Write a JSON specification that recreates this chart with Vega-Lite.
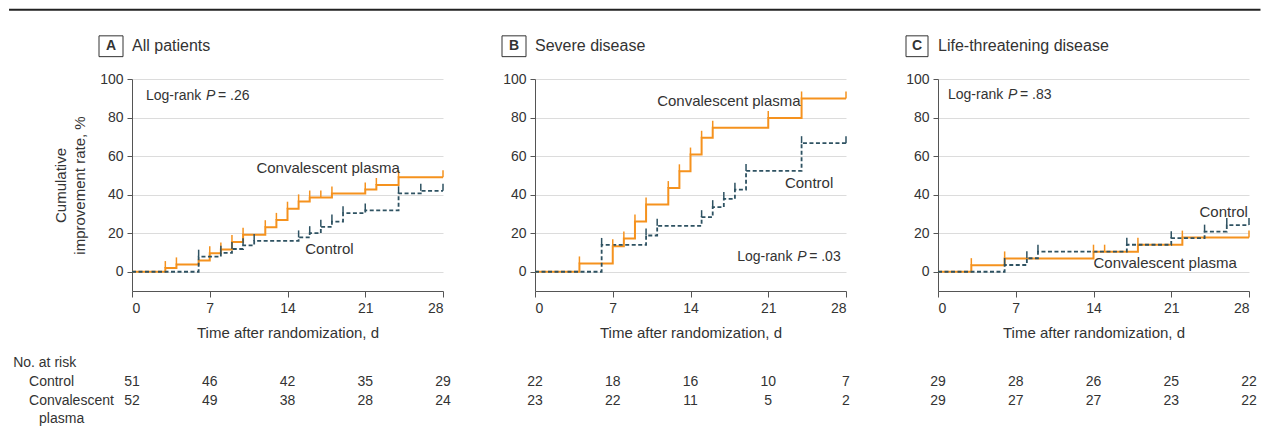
{
"$schema":"https://vega.github.io/schema/vega-lite/v6.json",
"background":"white",
"padding":{"left":8,"top":8,"right":0,"bottom":0},
"config":{"font":"Liberation Sans","view":{"stroke":null},
 "axis":{"labelFontSize":14,"labelColor":"#333","domainColor":"#555","tickColor":"#555","titleFontSize":15,"titleFontWeight":"normal","titleColor":"#333","gridColor":"#dcdcdc","gridWidth":1},
 "text":{"color":"#333"}},
"datasets":{
"curves":[
{"panel":"A","group":"Convalescent plasma","day":0,"value":0},{"panel":"A","group":"Convalescent plasma","day":3,"value":1.9},{"panel":"A","group":"Convalescent plasma","day":4,"value":3.8},{"panel":"A","group":"Convalescent plasma","day":6,"value":5.8},{"panel":"A","group":"Convalescent plasma","day":7,"value":9.6},{"panel":"A","group":"Convalescent plasma","day":8,"value":11.5},{"panel":"A","group":"Convalescent plasma","day":9,"value":15.4},{"panel":"A","group":"Convalescent plasma","day":10,"value":19.2},{"panel":"A","group":"Convalescent plasma","day":12,"value":23.1},{"panel":"A","group":"Convalescent plasma","day":13,"value":26.9},{"panel":"A","group":"Convalescent plasma","day":14,"value":32.7},{"panel":"A","group":"Convalescent plasma","day":15,"value":36.5},{"panel":"A","group":"Convalescent plasma","day":16,"value":38.5},{"panel":"A","group":"Convalescent plasma","day":18,"value":40.6},{"panel":"A","group":"Convalescent plasma","day":21,"value":42.7},{"panel":"A","group":"Convalescent plasma","day":22,"value":45},{"panel":"A","group":"Convalescent plasma","day":24,"value":49},{"panel":"A","group":"Convalescent plasma","day":28,"value":49},
{"panel":"A","group":"Control","day":0,"value":0},{"panel":"A","group":"Control","day":6,"value":7.8},{"panel":"A","group":"Control","day":8,"value":9.8},{"panel":"A","group":"Control","day":9,"value":11.8},{"panel":"A","group":"Control","day":10,"value":13.7},{"panel":"A","group":"Control","day":11,"value":16},{"panel":"A","group":"Control","day":15,"value":17.8},{"panel":"A","group":"Control","day":16,"value":20},{"panel":"A","group":"Control","day":17,"value":23.3},{"panel":"A","group":"Control","day":18,"value":26},{"panel":"A","group":"Control","day":19,"value":30.4},{"panel":"A","group":"Control","day":21,"value":31.8},{"panel":"A","group":"Control","day":24,"value":40.7},{"panel":"A","group":"Control","day":26,"value":42},{"panel":"A","group":"Control","day":28,"value":42},
{"panel":"B","group":"Convalescent plasma","day":0,"value":0},{"panel":"B","group":"Convalescent plasma","day":4,"value":4.3},{"panel":"B","group":"Convalescent plasma","day":7,"value":13.2},{"panel":"B","group":"Convalescent plasma","day":8,"value":17.3},{"panel":"B","group":"Convalescent plasma","day":9,"value":26.1},{"panel":"B","group":"Convalescent plasma","day":10,"value":34.9},{"panel":"B","group":"Convalescent plasma","day":12,"value":43.4},{"panel":"B","group":"Convalescent plasma","day":13,"value":52.1},{"panel":"B","group":"Convalescent plasma","day":14,"value":60.8},{"panel":"B","group":"Convalescent plasma","day":15,"value":69.5},{"panel":"B","group":"Convalescent plasma","day":16,"value":74.7},{"panel":"B","group":"Convalescent plasma","day":21,"value":79.8},{"panel":"B","group":"Convalescent plasma","day":24,"value":89.9},{"panel":"B","group":"Convalescent plasma","day":28,"value":89.9},
{"panel":"B","group":"Control","day":0,"value":0},{"panel":"B","group":"Control","day":6,"value":13.9},{"panel":"B","group":"Control","day":10,"value":18.8},{"panel":"B","group":"Control","day":11,"value":23.8},{"panel":"B","group":"Control","day":15,"value":28.3},{"panel":"B","group":"Control","day":16,"value":33.5},{"panel":"B","group":"Control","day":17,"value":37.8},{"panel":"B","group":"Control","day":18,"value":42.6},{"panel":"B","group":"Control","day":19,"value":52.3},{"panel":"B","group":"Control","day":24,"value":66.7},{"panel":"B","group":"Control","day":28,"value":66.7},
{"panel":"C","group":"Convalescent plasma","day":0,"value":0},{"panel":"C","group":"Convalescent plasma","day":3,"value":3.4},{"panel":"C","group":"Convalescent plasma","day":6,"value":6.9},{"panel":"C","group":"Convalescent plasma","day":14,"value":10.4},{"panel":"C","group":"Convalescent plasma","day":18,"value":14},{"panel":"C","group":"Convalescent plasma","day":22,"value":17.7},{"panel":"C","group":"Convalescent plasma","day":28,"value":17.7},
{"panel":"C","group":"Control","day":0,"value":0},{"panel":"C","group":"Control","day":6,"value":3.5},{"panel":"C","group":"Control","day":8,"value":7},{"panel":"C","group":"Control","day":9,"value":10.4},{"panel":"C","group":"Control","day":17,"value":14},{"panel":"C","group":"Control","day":21,"value":17.4},{"panel":"C","group":"Control","day":24,"value":20.8},{"panel":"C","group":"Control","day":26,"value":24.2},{"panel":"C","group":"Control","day":28,"value":24.2}
],
"censor":[
{"panel":"A","group":"Convalescent plasma","day":3,"value":1.9},{"panel":"A","group":"Convalescent plasma","day":4,"value":3.8},{"panel":"A","group":"Convalescent plasma","day":7,"value":9.6},{"panel":"A","group":"Convalescent plasma","day":8,"value":11.5},{"panel":"A","group":"Convalescent plasma","day":9,"value":15.4},{"panel":"A","group":"Convalescent plasma","day":10,"value":19.2},{"panel":"A","group":"Convalescent plasma","day":12,"value":23.1},{"panel":"A","group":"Convalescent plasma","day":13,"value":26.9},{"panel":"A","group":"Convalescent plasma","day":14,"value":32.7},{"panel":"A","group":"Convalescent plasma","day":15,"value":36.5},{"panel":"A","group":"Convalescent plasma","day":16,"value":38.5},{"panel":"A","group":"Convalescent plasma","day":17,"value":38.5},{"panel":"A","group":"Convalescent plasma","day":18,"value":40.6},{"panel":"A","group":"Convalescent plasma","day":21,"value":42.7},{"panel":"A","group":"Convalescent plasma","day":22,"value":45},{"panel":"A","group":"Convalescent plasma","day":24,"value":49},{"panel":"A","group":"Convalescent plasma","day":28,"value":49},
{"panel":"A","group":"Control","day":6,"value":7.8},{"panel":"A","group":"Control","day":8,"value":9.8},{"panel":"A","group":"Control","day":9,"value":11.8},{"panel":"A","group":"Control","day":10,"value":13.7},{"panel":"A","group":"Control","day":11,"value":16},{"panel":"A","group":"Control","day":15,"value":17.8},{"panel":"A","group":"Control","day":16,"value":20},{"panel":"A","group":"Control","day":17,"value":23.3},{"panel":"A","group":"Control","day":18,"value":26},{"panel":"A","group":"Control","day":19,"value":30.4},{"panel":"A","group":"Control","day":21,"value":31.8},{"panel":"A","group":"Control","day":24,"value":40.7},{"panel":"A","group":"Control","day":26,"value":42},{"panel":"A","group":"Control","day":28,"value":42},
{"panel":"B","group":"Convalescent plasma","day":4,"value":4.3},{"panel":"B","group":"Convalescent plasma","day":7,"value":13.2},{"panel":"B","group":"Convalescent plasma","day":8,"value":17.3},{"panel":"B","group":"Convalescent plasma","day":9,"value":26.1},{"panel":"B","group":"Convalescent plasma","day":10,"value":34.9},{"panel":"B","group":"Convalescent plasma","day":12,"value":43.4},{"panel":"B","group":"Convalescent plasma","day":13,"value":52.1},{"panel":"B","group":"Convalescent plasma","day":14,"value":60.8},{"panel":"B","group":"Convalescent plasma","day":15,"value":69.5},{"panel":"B","group":"Convalescent plasma","day":16,"value":74.7},{"panel":"B","group":"Convalescent plasma","day":21,"value":79.8},{"panel":"B","group":"Convalescent plasma","day":24,"value":89.9},{"panel":"B","group":"Convalescent plasma","day":28,"value":89.9},
{"panel":"B","group":"Control","day":6,"value":13.9},{"panel":"B","group":"Control","day":10,"value":18.8},{"panel":"B","group":"Control","day":11,"value":23.8},{"panel":"B","group":"Control","day":15,"value":28.3},{"panel":"B","group":"Control","day":16,"value":33.5},{"panel":"B","group":"Control","day":17,"value":37.8},{"panel":"B","group":"Control","day":18,"value":42.6},{"panel":"B","group":"Control","day":19,"value":52.3},{"panel":"B","group":"Control","day":24,"value":66.7},{"panel":"B","group":"Control","day":28,"value":66.7},
{"panel":"C","group":"Convalescent plasma","day":3,"value":3.4},{"panel":"C","group":"Convalescent plasma","day":6,"value":6.9},{"panel":"C","group":"Convalescent plasma","day":14,"value":10.4},{"panel":"C","group":"Convalescent plasma","day":15,"value":10.4},{"panel":"C","group":"Convalescent plasma","day":18,"value":14},{"panel":"C","group":"Convalescent plasma","day":22,"value":17.7},{"panel":"C","group":"Convalescent plasma","day":28,"value":17.7},
{"panel":"C","group":"Control","day":6,"value":3.5},{"panel":"C","group":"Control","day":8,"value":7},{"panel":"C","group":"Control","day":9,"value":10.4},{"panel":"C","group":"Control","day":17,"value":14},{"panel":"C","group":"Control","day":21,"value":17.4},{"panel":"C","group":"Control","day":24,"value":20.8},{"panel":"C","group":"Control","day":26,"value":24.2},{"panel":"C","group":"Control","day":28,"value":24.2}
],
"risk":[
{"panel":"A","group":"Control","day":0,"n":51},{"panel":"A","group":"Control","day":7,"n":46},{"panel":"A","group":"Control","day":14,"n":42},{"panel":"A","group":"Control","day":21,"n":35},{"panel":"A","group":"Control","day":28,"n":29},
{"panel":"A","group":"Convalescent plasma","day":0,"n":52},{"panel":"A","group":"Convalescent plasma","day":7,"n":49},{"panel":"A","group":"Convalescent plasma","day":14,"n":38},{"panel":"A","group":"Convalescent plasma","day":21,"n":28},{"panel":"A","group":"Convalescent plasma","day":28,"n":24},
{"panel":"B","group":"Control","day":0,"n":22},{"panel":"B","group":"Control","day":7,"n":18},{"panel":"B","group":"Control","day":14,"n":16},{"panel":"B","group":"Control","day":21,"n":10},{"panel":"B","group":"Control","day":28,"n":7},
{"panel":"B","group":"Convalescent plasma","day":0,"n":23},{"panel":"B","group":"Convalescent plasma","day":7,"n":22},{"panel":"B","group":"Convalescent plasma","day":14,"n":11},{"panel":"B","group":"Convalescent plasma","day":21,"n":5},{"panel":"B","group":"Convalescent plasma","day":28,"n":2},
{"panel":"C","group":"Control","day":0,"n":29},{"panel":"C","group":"Control","day":7,"n":28},{"panel":"C","group":"Control","day":14,"n":26},{"panel":"C","group":"Control","day":21,"n":25},{"panel":"C","group":"Control","day":28,"n":22},
{"panel":"C","group":"Convalescent plasma","day":0,"n":29},{"panel":"C","group":"Convalescent plasma","day":7,"n":27},{"panel":"C","group":"Convalescent plasma","day":14,"n":27},{"panel":"C","group":"Convalescent plasma","day":21,"n":23},{"panel":"C","group":"Convalescent plasma","day":28,"n":22}
]
},
"spacing":92,
"bounds":"flush",
"hconcat":[
{"width":311,"height":212,
 "layer":[
  {"data":{"name":"curves"},"transform":[{"filter":"datum.panel==='A' && datum.group==='Convalescent plasma'"}],
   "mark":{"type":"line","interpolate":"step-after","strokeWidth":2,"color":"#F5921E"},
   "encoding":{"x":{"field":"day","type":"quantitative","scale":{"domain":[0,28],"nice":false},"axis":{"values":[0,7,14,21,28],"title":"Time after randomization, d","grid":false,"tickSize":6,"labelPadding":4,"titlePadding":10}},
    "y":{"field":"value","type":"quantitative","scale":{"domain":[-10,100],"nice":false},"axis":{"values":[0,20,40,60,80,100],"title":["Cumulative","improvement rate, %"],"grid":true,"tickSize":5,"labelPadding":4,"titlePadding":12,"titleLineHeight":19}}}},
  {"data":{"name":"curves"},"transform":[{"filter":"datum.panel==='A' && datum.group==='Control'"}],
   "mark":{"type":"line","interpolate":"step-after","strokeWidth":1.8,"color":"#2E5262","strokeDash":[4,2.5]},
   "encoding":{"x":{"field":"day","type":"quantitative"},"y":{"field":"value","type":"quantitative"}}},
  {"data":{"name":"censor"},"transform":[{"filter":"datum.panel==='A' && datum.group==='Convalescent plasma'"}],
   "mark":{"type":"point","shape":"M0,0V-1","size":196,"filled":false,"strokeWidth":1.5,"color":"#F5921E","opacity":1},
   "encoding":{"x":{"field":"day","type":"quantitative"},"y":{"field":"value","type":"quantitative"}}},
  {"data":{"name":"censor"},"transform":[{"filter":"datum.panel==='A' && datum.group==='Control'"}],
   "mark":{"type":"point","shape":"M0,0V-1","size":196,"filled":false,"strokeWidth":1.5,"color":"#2E5262","opacity":1},
   "encoding":{"x":{"field":"day","type":"quantitative"},"y":{"field":"value","type":"quantitative"}}},
  {"data":{"values":[{}]},"mark":{"type":"rule","strokeWidth":2,"color":"#222"},"encoding":{"x":{"datum":-11.07},"x2":{"datum":101.6},"y":{"datum":135.9}}},
  {"data":{"values":[{}]},"mark":{"type":"rect","fill":"white","stroke":"#333","strokeWidth":1},"encoding":{"x":{"datum":-2.97},"x2":{"datum":-0.81},"y":{"datum":111.6},"y2":{"datum":122.4}}},
  {"data":{"values":[{}]},"mark":{"type":"text","text":"A","fontWeight":"bold","fontSize":14,"align":"center","baseline":"middle"},"encoding":{"x":{"datum":-1.89},"y":{"datum":117}}},
  {"data":{"values":[{}]},"mark":{"type":"text","text":"All patients","fontSize":16,"align":"left","baseline":"middle"},"encoding":{"x":{"datum":0},"y":{"datum":117}}},
  {"data":{"values":[{}]},"mark":{"type":"text","text":"Log-rank","fontSize":14,"align":"left","baseline":"middle"},"encoding":{"x":{"datum":1.26},"y":{"datum":91.3}}},
  {"data":{"values":[{}]},"mark":{"type":"text","text":"P","fontSize":14,"fontStyle":"italic","align":"left","baseline":"middle","dx":60},"encoding":{"x":{"datum":1.26},"y":{"datum":91.3}}},
  {"data":{"values":[{}]},"mark":{"type":"text","text":"= .26","fontSize":14,"align":"left","baseline":"middle","dx":72},"encoding":{"x":{"datum":1.26},"y":{"datum":91.3}}},
  {"data":{"values":[{}]},"mark":{"type":"text","text":"Convalescent plasma","fontSize":15,"align":"left","baseline":"middle"},"encoding":{"x":{"datum":11.2},"y":{"datum":54}}},
  {"data":{"values":[{}]},"mark":{"type":"text","text":"Control","fontSize":15,"align":"left","baseline":"middle"},"encoding":{"x":{"datum":15.6},"y":{"datum":11.6}}},
  {"data":{"values":[{}]},"mark":{"type":"text","text":"No. at risk","fontSize":14,"align":"left","baseline":"middle"},"encoding":{"x":{"datum":-10.7},"y":{"datum":-47.5}}},
  {"data":{"values":[{}]},"mark":{"type":"text","text":"Control","fontSize":14,"align":"left","baseline":"middle"},"encoding":{"x":{"datum":-9.27},"y":{"datum":-57.4}}},
  {"data":{"values":[{}]},"mark":{"type":"text","text":"Convalescent","fontSize":14,"align":"left","baseline":"middle"},"encoding":{"x":{"datum":-9.27},"y":{"datum":-67.2}}},
  {"data":{"values":[{}]},"mark":{"type":"text","text":"plasma","fontSize":14,"align":"left","baseline":"middle"},"encoding":{"x":{"datum":-8.37},"y":{"datum":-76.5}}},
  {"data":{"name":"risk"},"transform":[{"filter":"datum.panel==='A' && datum.group==='Control'"}],"mark":{"type":"text","fontSize":14,"align":"center","baseline":"middle"},"encoding":{"x":{"field":"day","type":"quantitative"},"y":{"datum":-57.4},"text":{"field":"n"}}},
  {"data":{"name":"risk"},"transform":[{"filter":"datum.panel==='A' && datum.group==='Convalescent plasma'"}],"mark":{"type":"text","fontSize":14,"align":"center","baseline":"middle"},"encoding":{"x":{"field":"day","type":"quantitative"},"y":{"datum":-67.2},"text":{"field":"n"}}}
 ]},
{"width":311,"height":212,
 "layer":[
  {"data":{"name":"curves"},"transform":[{"filter":"datum.panel==='B' && datum.group==='Convalescent plasma'"}],
   "mark":{"type":"line","interpolate":"step-after","strokeWidth":2,"color":"#F5921E"},
   "encoding":{"x":{"field":"day","type":"quantitative","scale":{"domain":[0,28],"nice":false},"axis":{"values":[0,7,14,21,28],"title":"Time after randomization, d","grid":false,"tickSize":6,"labelPadding":4,"titlePadding":10}},
    "y":{"field":"value","type":"quantitative","scale":{"domain":[-10,100],"nice":false},"axis":{"values":[0,20,40,60,80,100],"title":null,"grid":true,"tickSize":5,"labelPadding":4}}}},
  {"data":{"name":"curves"},"transform":[{"filter":"datum.panel==='B' && datum.group==='Control'"}],
   "mark":{"type":"line","interpolate":"step-after","strokeWidth":1.8,"color":"#2E5262","strokeDash":[4,2.5]},
   "encoding":{"x":{"field":"day","type":"quantitative"},"y":{"field":"value","type":"quantitative"}}},
  {"data":{"name":"censor"},"transform":[{"filter":"datum.panel==='B' && datum.group==='Convalescent plasma'"}],
   "mark":{"type":"point","shape":"M0,0V-1","size":196,"filled":false,"strokeWidth":1.5,"color":"#F5921E","opacity":1},
   "encoding":{"x":{"field":"day","type":"quantitative"},"y":{"field":"value","type":"quantitative"}}},
  {"data":{"name":"censor"},"transform":[{"filter":"datum.panel==='B' && datum.group==='Control'"}],
   "mark":{"type":"point","shape":"M0,0V-1","size":196,"filled":false,"strokeWidth":1.5,"color":"#2E5262","opacity":1},
   "encoding":{"x":{"field":"day","type":"quantitative"},"y":{"field":"value","type":"quantitative"}}},
  {"data":{"values":[{}]},"mark":{"type":"rect","fill":"white","stroke":"#333","strokeWidth":1},"encoding":{"x":{"datum":-2.97},"x2":{"datum":-0.81},"y":{"datum":111.6},"y2":{"datum":122.4}}},
  {"data":{"values":[{}]},"mark":{"type":"text","text":"B","fontWeight":"bold","fontSize":14,"align":"center","baseline":"middle"},"encoding":{"x":{"datum":-1.89},"y":{"datum":117}}},
  {"data":{"values":[{}]},"mark":{"type":"text","text":"Severe disease","fontSize":16,"align":"left","baseline":"middle"},"encoding":{"x":{"datum":0},"y":{"datum":117}}},
  {"data":{"values":[{}]},"mark":{"type":"text","text":"Log-rank","fontSize":14,"align":"left","baseline":"middle"},"encoding":{"x":{"datum":18.2},"y":{"datum":7.6}}},
  {"data":{"values":[{}]},"mark":{"type":"text","text":"P","fontSize":14,"fontStyle":"italic","align":"left","baseline":"middle","dx":60},"encoding":{"x":{"datum":18.2},"y":{"datum":7.6}}},
  {"data":{"values":[{}]},"mark":{"type":"text","text":"= .03","fontSize":14,"align":"left","baseline":"middle","dx":72},"encoding":{"x":{"datum":18.2},"y":{"datum":7.6}}},
  {"data":{"values":[{}]},"mark":{"type":"text","text":"Convalescent plasma","fontSize":15,"align":"left","baseline":"middle"},"encoding":{"x":{"datum":11.0},"y":{"datum":88.4}}},
  {"data":{"values":[{}]},"mark":{"type":"text","text":"Control","fontSize":15,"align":"left","baseline":"middle"},"encoding":{"x":{"datum":22.5},"y":{"datum":45.9}}},
  {"data":{"name":"risk"},"transform":[{"filter":"datum.panel==='B' && datum.group==='Control'"}],"mark":{"type":"text","fontSize":14,"align":"center","baseline":"middle"},"encoding":{"x":{"field":"day","type":"quantitative"},"y":{"datum":-57.4},"text":{"field":"n"}}},
  {"data":{"name":"risk"},"transform":[{"filter":"datum.panel==='B' && datum.group==='Convalescent plasma'"}],"mark":{"type":"text","fontSize":14,"align":"center","baseline":"middle"},"encoding":{"x":{"field":"day","type":"quantitative"},"y":{"datum":-67.2},"text":{"field":"n"}}}
 ]},
{"width":311,"height":212,
 "layer":[
  {"data":{"name":"curves"},"transform":[{"filter":"datum.panel==='C' && datum.group==='Convalescent plasma'"}],
   "mark":{"type":"line","interpolate":"step-after","strokeWidth":2,"color":"#F5921E"},
   "encoding":{"x":{"field":"day","type":"quantitative","scale":{"domain":[0,28],"nice":false},"axis":{"values":[0,7,14,21,28],"title":"Time after randomization, d","grid":false,"tickSize":6,"labelPadding":4,"titlePadding":10}},
    "y":{"field":"value","type":"quantitative","scale":{"domain":[-10,100],"nice":false},"axis":{"values":[0,20,40,60,80,100],"title":null,"grid":true,"tickSize":5,"labelPadding":4}}}},
  {"data":{"name":"curves"},"transform":[{"filter":"datum.panel==='C' && datum.group==='Control'"}],
   "mark":{"type":"line","interpolate":"step-after","strokeWidth":1.8,"color":"#2E5262","strokeDash":[4,2.5]},
   "encoding":{"x":{"field":"day","type":"quantitative"},"y":{"field":"value","type":"quantitative"}}},
  {"data":{"name":"censor"},"transform":[{"filter":"datum.panel==='C' && datum.group==='Convalescent plasma'"}],
   "mark":{"type":"point","shape":"M0,0V-1","size":196,"filled":false,"strokeWidth":1.5,"color":"#F5921E","opacity":1},
   "encoding":{"x":{"field":"day","type":"quantitative"},"y":{"field":"value","type":"quantitative"}}},
  {"data":{"name":"censor"},"transform":[{"filter":"datum.panel==='C' && datum.group==='Control'"}],
   "mark":{"type":"point","shape":"M0,0V-1","size":196,"filled":false,"strokeWidth":1.5,"color":"#2E5262","opacity":1},
   "encoding":{"x":{"field":"day","type":"quantitative"},"y":{"field":"value","type":"quantitative"}}},
  {"data":{"values":[{}]},"mark":{"type":"rect","fill":"white","stroke":"#333","strokeWidth":1},"encoding":{"x":{"datum":-2.88},"x2":{"datum":-0.9},"y":{"datum":111.6},"y2":{"datum":122.4}}},
  {"data":{"values":[{}]},"mark":{"type":"text","text":"C","fontWeight":"bold","fontSize":14,"align":"center","baseline":"middle"},"encoding":{"x":{"datum":-1.89},"y":{"datum":117}}},
  {"data":{"values":[{}]},"mark":{"type":"text","text":"Life-threatening disease","fontSize":16,"align":"left","baseline":"middle"},"encoding":{"x":{"datum":0},"y":{"datum":117}}},
  {"data":{"values":[{}]},"mark":{"type":"text","text":"Log-rank","fontSize":14,"align":"left","baseline":"middle"},"encoding":{"x":{"datum":0.9},"y":{"datum":91.9}}},
  {"data":{"values":[{}]},"mark":{"type":"text","text":"P","fontSize":14,"fontStyle":"italic","align":"left","baseline":"middle","dx":60},"encoding":{"x":{"datum":0.9},"y":{"datum":91.9}}},
  {"data":{"values":[{}]},"mark":{"type":"text","text":"= .83","fontSize":14,"align":"left","baseline":"middle","dx":72},"encoding":{"x":{"datum":0.9},"y":{"datum":91.9}}},
  {"data":{"values":[{}]},"mark":{"type":"text","text":"Control","fontSize":15,"align":"right","baseline":"middle"},"encoding":{"x":{"datum":27.9},"y":{"datum":31.2}}},
  {"data":{"values":[{}]},"mark":{"type":"text","text":"Convalescent plasma","fontSize":15,"align":"left","baseline":"middle"},"encoding":{"x":{"datum":14.0},"y":{"datum":4.5}}},
  {"data":{"name":"risk"},"transform":[{"filter":"datum.panel==='C' && datum.group==='Control'"}],"mark":{"type":"text","fontSize":14,"align":"center","baseline":"middle"},"encoding":{"x":{"field":"day","type":"quantitative"},"y":{"datum":-57.4},"text":{"field":"n"}}},
  {"data":{"name":"risk"},"transform":[{"filter":"datum.panel==='C' && datum.group==='Convalescent plasma'"}],"mark":{"type":"text","fontSize":14,"align":"center","baseline":"middle"},"encoding":{"x":{"field":"day","type":"quantitative"},"y":{"datum":-67.2},"text":{"field":"n"}}}
 ]}
]
}
